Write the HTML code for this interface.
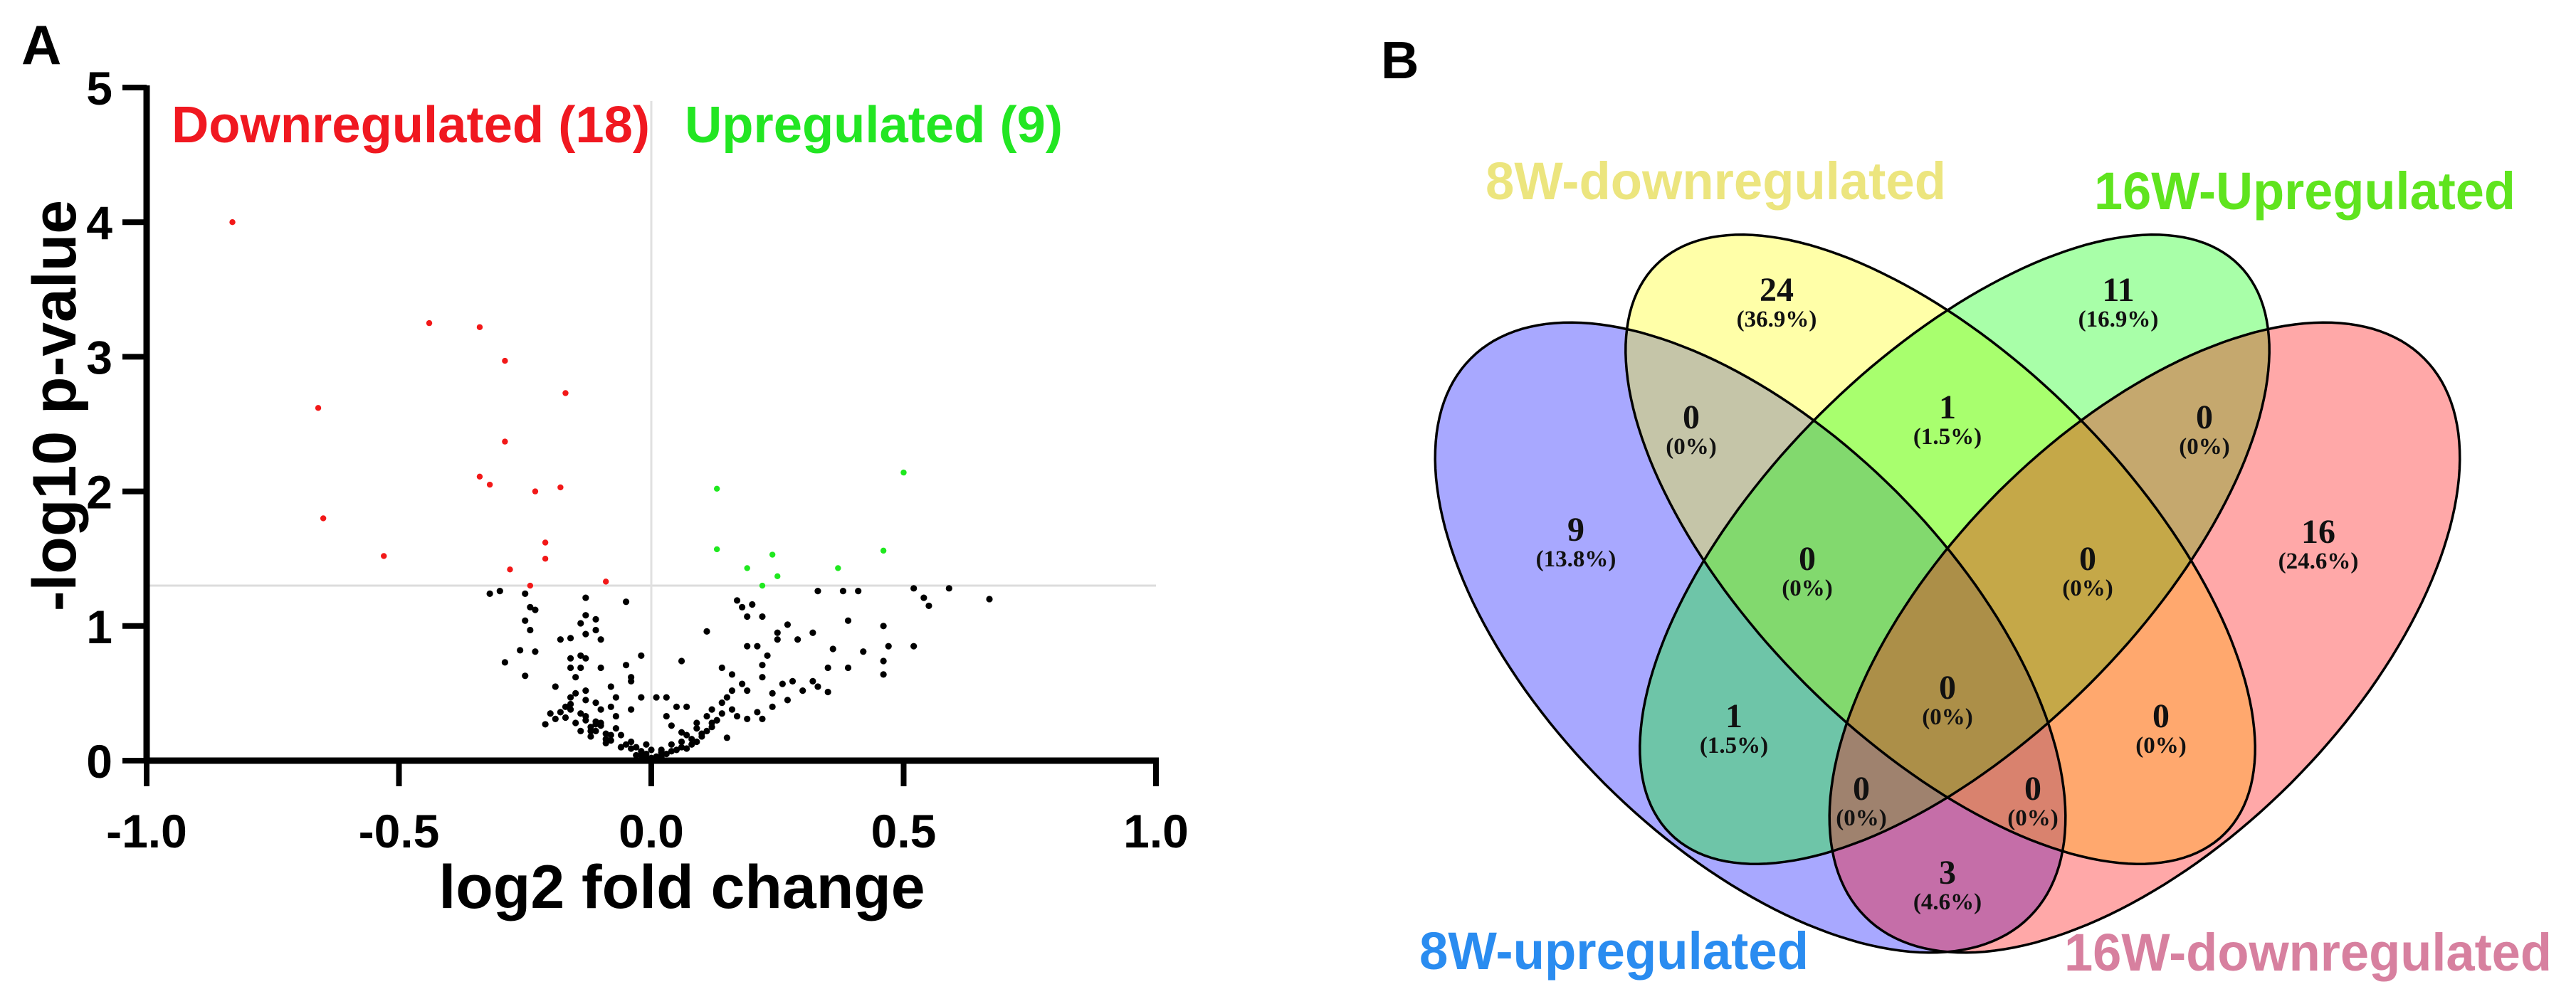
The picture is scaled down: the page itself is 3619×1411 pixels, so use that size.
<!DOCTYPE html>
<html><head><meta charset="utf-8"><style>
html,body{margin:0;padding:0;background:#fff;overflow:hidden;}
svg{display:block;}
text{font-family:"Liberation Sans",Arial,sans-serif;}
.vn{font-family:"Liberation Serif","Times New Roman",serif;font-weight:bold;}
</style></head><body>
<svg id="fig" width="3619" height="1411" viewBox="0 0 3619 1411" xmlns="http://www.w3.org/2000/svg">
<g id="panelA"></g>
<g id="panelB"></g>
</svg>
<script>
// ---------- Volcano data ----------
const xTicks = [-1.0, -0.5, 0.0, 0.5, 1.0];
const xTickLabels = ["-1.0", "-0.5", "0.0", "0.5", "1.0"];
const yTicks = [0, 1, 2, 3, 4, 5];
const yTickLabels = ["0", "1", "2", "3", "4", "5"];
const threshold = 1.3;
const downX = [-0.83,-0.44,-0.34,-0.29,-0.17,-0.66,-0.29,-0.34,-0.32,-0.23,-0.18,-0.65,-0.53,-0.21,-0.21,-0.28,-0.24,-0.09];
const downY = [4.0,3.25,3.22,2.97,2.73,2.62,2.37,2.11,2.05,2.0,2.03,1.8,1.52,1.62,1.5,1.42,1.3,1.33];
const upX = [0.5,0.13,0.13,0.24,0.46,0.19,0.37,0.25,0.22];
const upY = [2.14,2.02,1.57,1.53,1.56,1.43,1.43,1.37,1.3];
const nsX = [-0.32,-0.30,-0.25,-0.13,-0.05,-0.24,-0.23,-0.25,-0.24,-0.13,-0.11,-0.14,-0.11,-0.18,-0.16,-0.13,-0.10,-0.26,-0.23,-0.29,-0.16,-0.14,-0.13,-0.16,-0.14,-0.10,-0.25,-0.19,-0.15,-0.13,-0.08,-0.15,-0.13,-0.11,-0.16,-0.17,-0.19,-0.21,-0.13,-0.10,-0.08,-0.07,-0.10,-0.07,-0.06,-0.04,-0.04,-0.02,-0.01,-0.01,-0.07,-0.04,-0.04,-0.02,-0.05,-0.02,0.01,0.03,0.05,0.07,0.03,0.04,0.06,0.07,0.09,0.09,0.11,0.12,0.14,0.15,0.16,0.14,0.16,0.18,0.19,0.16,0.17,0.19,0.15,0.11,0.06,0.17,0.18,0.19,0.20,0.19,0.21,0.22,0.22,0.23,0.22,0.24,0.25,0.25,0.27,0.26,0.28,0.29,0.32,0.33,0.32,0.33,0.35,0.36,0.35,0.38,0.39,0.39,0.41,0.42,0.46,0.47,0.46,0.46,0.52,0.54,0.55,0.59,0.67,0.52,0.21,0.22,0.24,0.04,0.03,0.06,0.07,-0.04,-0.16,-0.17,-0.08,-0.05,0.09,0.12,-0.12,-0.09,-0.06,-0.03,0.02,0.05,0.08,0.10,-0.11,-0.20,-0.14,0.13,0.27,0.30,-0.12,-0.11,-0.09,-0.08,-0.06,0.0,-0.02,-0.03,0.0,0.01,0.02,-0.01,-0.13,-0.14,-0.15,-0.12,-0.09,-0.18,-0.16,-0.11,-0.10,0.08,0.10,0.11,0.12,0.13,0.14,0.04,0.06,0.02];
const nsY = [1.24,1.26,1.24,1.21,1.18,1.14,1.12,1.04,0.97,1.08,1.05,1.02,0.97,0.90,0.91,0.94,0.90,0.82,0.81,0.73,0.76,0.78,0.76,0.69,0.69,0.69,0.63,0.55,0.62,0.52,0.55,0.50,0.45,0.43,0.38,0.32,0.31,0.27,0.33,0.38,0.40,0.33,0.28,0.24,0.19,0.14,0.09,0.07,0.05,0.02,0.47,0.59,0.62,0.78,0.71,0.47,0.47,0.47,0.40,0.40,0.33,0.26,0.21,0.19,0.24,0.28,0.33,0.38,0.43,0.47,0.52,0.69,0.64,0.57,0.52,0.38,0.33,0.31,0.17,0.96,0.74,1.19,1.14,1.07,1.16,0.85,0.85,1.07,0.71,0.78,0.62,0.50,0.90,0.95,1.01,0.57,0.59,0.90,0.95,1.26,0.59,0.55,0.51,0.83,0.69,1.26,0.69,1.04,1.26,0.81,1.00,0.85,0.74,0.64,1.28,1.21,1.15,1.28,1.20,0.85,0.36,0.31,0.40,0.07,0.05,0.14,0.09,0.38,0.47,0.40,0.19,0.12,0.14,0.28,0.22,0.16,0.10,0.04,0.03,0.08,0.12,0.18,0.27,0.35,0.22,0.30,0.45,0.52,0.25,0.22,0.20,0.15,0.10,0.02,0.04,0.10,0.08,0.03,0.06,0.12,0.30,0.35,0.28,0.18,0.13,0.36,0.42,0.29,0.26,0.16,0.20,0.22,0.25,0.30,0.35,0.12,0.10,0.08];

const NS = "http://www.w3.org/2000/svg";
function mk(tag, attrs, parent){const e=document.createElementNS(NS,tag);for(const k in attrs)e.setAttribute(k,attrs[k]);parent.appendChild(e);return e;}
const A = document.getElementById('panelA');
const X0=206, X1=1624, Y0=1069, Y5=123;
const sx = v => X0 + (v+1)/2*(X1-X0);
const sy = v => Y0 - v/5*(Y0-Y5);

let t = mk('text',{x:30,y:90,'font-size':78,'font-weight':'bold',fill:'#000'},A);
t.textContent='A';



let l = mk('line',{x1:X0,x2:X1,y1:sy(threshold),y2:sy(threshold),stroke:'#dcdcdc','stroke-width':3},A);


l = mk('line',{x1:sx(0),x2:sx(0),y1:sy(4.9),y2:Y0,stroke:'#e0e0e0','stroke-width':3},A);



function dots(xs,ys,col,r,name){
  const g=mk('g',{},A);
  
  
  for(let i=0;i<xs.length;i++){
    const c=mk('circle',{cx:sx(xs[i]),cy:sy(ys[i]),r:r,fill:col},g);
    
    
  }
}
dots(nsX,nsY,'#000',4.6,'nonsignificant-series');
dots(downX,downY,'#f21818',4.2,'downregulated-series');
dots(upX,upY,'#1fe81f',4.2,'upregulated-series');

l = mk('line',{x1:X0,x2:X1+4,y1:Y0,y2:Y0,stroke:'#000','stroke-width':9},A);


l = mk('line',{x1:X0,x2:X0,y1:Y5-3,y2:Y0+4,stroke:'#000','stroke-width':9},A);


xTicks.forEach((v,i)=>{
  const tk=mk('line',{x1:sx(v),x2:sx(v),y1:Y0,y2:Y0+36,stroke:'#000','stroke-width':8},A);
  
  
  const tl=mk('text',{x:sx(v),y:Y0+122,'font-size':66,'font-weight':'bold','text-anchor':'middle',fill:'#000'},A);
  tl.textContent=xTickLabels[i];
  
  
});
yTicks.forEach((v,i)=>{
  const tk=mk('line',{x1:X0-34,x2:X0,y1:sy(v),y2:sy(v),stroke:'#000','stroke-width':8},A);
  
  
  const tl=mk('text',{x:X0-48,y:sy(v)+24,'font-size':66,'font-weight':'bold','text-anchor':'end',fill:'#000'},A);
  tl.textContent=yTickLabels[i];
  
  
});
t = mk('text',{x:958,y:1276,'font-size':86,'font-weight':'bold','text-anchor':'middle',fill:'#000'},A);
t.textContent='log2 fold change';


t = mk('text',{x:0,y:0,'font-size':86,'font-weight':'bold','text-anchor':'middle',fill:'#000',transform:'translate(106,570) rotate(-90)'},A);
t.textContent='-log10 p-value';


t = mk('text',{x:241,y:200,'font-size':72,'font-weight':'bold',fill:'#f01820',textLength:672,lengthAdjust:'spacingAndGlyphs'},A);
t.textContent='Downregulated (18)';


t = mk('text',{x:962,y:200,'font-size':72,'font-weight':'bold',fill:'#22e622',textLength:531,lengthAdjust:'spacingAndGlyphs'},A);
t.textContent='Upregulated (9)';



// ---------- Venn ----------
const setNames = ["8W-upregulated","8W-downregulated","16W-Upregulated","16W-downregulated"];
const regionCounts = [9,24,11,16,0,1,0,0,0,0,1,0,0,0,3];
const regionPcts = ["13.8%","36.9%","16.9%","24.6%","0%","1.5%","0%","0%","0%","0%","1.5%","0%","0%","0%","4.6%"];
const B = document.getElementById('panelB');
const ell = [
 {cx:2459,cy:896,a:555,b:290,ang:45,fill:'#0000ff'},
 {cx:2726,cy:772,a:565,b:268,ang:45,fill:'#ffff00'},
 {cx:2746,cy:772,a:565,b:268,ang:-45,fill:'#00ff00'},
 {cx:3013,cy:896,a:555,b:290,ang:-45,fill:'#ff0000'}];
function ellPath(e){
  const th=e.ang*Math.PI/180, c=Math.cos(th), s=Math.sin(th);
  let d='';
  for(let i=0;i<=180;i++){
    const p=i/180*2*Math.PI, u=e.a*Math.cos(p), v=e.b*Math.sin(p);
    const x=e.cx+u*c-v*s, y=e.cy+u*s+v*c;
    d+=(i?'L':'M')+x.toFixed(1)+' '+y.toFixed(1);
  }
  return d+'Z';
}
const enames=['ellipse-8w-up','ellipse-8w-down','ellipse-16w-up','ellipse-16w-down'];
ell.forEach((e,i)=>{
  const el=mk('path',{d:ellPath(e),fill:e.fill,'fill-opacity':0.34},B);
  
  
});
ell.forEach((e,i)=>{
  const el=mk('path',{d:ellPath(e),fill:'none',stroke:'#000','stroke-width':3.5},B);
  
  
});
const regionPos=[[2214,744],[2496,407],[2976,407],[3257,747],[2376,586],[2736,572],[3097,586],[2539,785],[2933,785],[2736,966],[2436,1006],[3036,1006],[2615,1108],[2856,1108],[2736,1226]];
regionCounts.forEach((c,i)=>{
  const p=regionPos[i];
  const n=mk('text',{x:p[0],y:p[1]+16,'font-size':48,'text-anchor':'middle',fill:'#111',class:'vn'},B);
  n.textContent=String(c);
  
  
  const q=mk('text',{x:p[0],y:p[1]+52,'font-size':33,'text-anchor':'middle',fill:'#111',class:'vn'},B);
  q.textContent='('+regionPcts[i]+')';
  
  
});
const labs=[[1994,1362,547,'#2a8cf0'],[2087,280,647,'#ece57e'],[2942,294,592,'#5fe41e'],[2900,1364,685,'#d7809f']];
setNames.forEach((s,i)=>{
  const L=labs[i];
  const e=mk('text',{x:L[0],y:L[1],'font-size':74,'font-weight':'bold',fill:L[3],textLength:L[2],lengthAdjust:'spacingAndGlyphs'},B);
  e.textContent=s;
  
  
});
t = mk('text',{x:1940,y:110,'font-size':74,'font-weight':'bold',fill:'#000'},B);
t.textContent='B';


</script>
</body></html>
